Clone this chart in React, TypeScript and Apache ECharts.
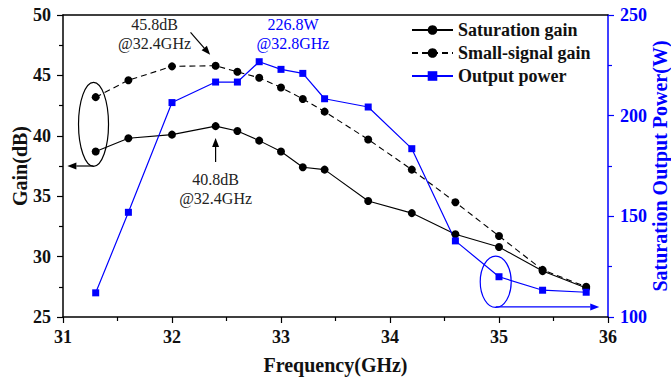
import React, { useEffect, useRef } from "react";
import * as echarts from "echarts";

const freq = [31.3, 31.6, 32.0, 32.4, 32.6, 32.8, 33.0, 33.2, 33.4, 33.8, 34.2, 34.6, 35.0, 35.4, 35.8];
const satGain = [38.7, 39.8, 40.1, 40.8, 40.4, 39.6, 38.7, 37.4, 37.2, 34.6, 33.6, 31.85, 30.8, 28.8, 27.4];
const smallGain = [43.2, 44.6, 45.75, 45.8, 45.3, 44.8, 44.0, 43.05, 42.0, 39.7, 37.2, 34.5, 31.7, 28.9, 27.5];
const outPower = [112, 152, 206.5, 216.7, 216.7, 226.8, 223, 221, 208.4, 204.3, 183.6, 137.8, 120, 113.3, 112.3];

const seriesNames = ["Saturation gain", "Small-signal gain", "Output power"];

const FONT = '"Liberation Serif", "Times New Roman", serif';
const BLUE = "#0000ff";

// annotations in data coordinates: [x, y, yAxisIndex]
const annTexts = [
  { t: "45.8dB", at: [31.84, 49.25, 0], c: "#222" },
  { t: "@32.4GHz", at: [31.84, 47.6, 0], c: "#222" },
  { t: "226.8W", at: [33.11, 49.25, 0], c: BLUE },
  { t: "@32.8GHz", at: [33.11, 47.6, 0], c: BLUE },
  { t: "40.8dB", at: [32.4, 36.42, 0], c: "#222" },
  { t: "@32.4GHz", at: [32.4, 34.77, 0], c: "#222" },
];
const annArrows = [
  { from: [31.28, 37.5, 0], to: [31.04, 37.5, 0], c: "#000" },
  { from: [34.97, 105, 1], to: [35.92, 105, 1], c: BLUE },
  { from: [32.17, 48.57, 0], to: [32.35, 46.7, 0], c: "#000" },
  { from: [32.4, 37.83, 0], to: [32.4, 39.82, 0], c: "#000" },
];
const annEllipses = [
  { at: [31.28, 40.95, 0], rx: 15, ry: 42, c: "#000" },
  { at: [34.97, 117.5, 1], rx: 15.5, ry: 25.7, c: BLUE },
];

const zip = (xs: number[], ys: number[]) => xs.map((x, i) => [x, ys[i]]);

export default function App() {
  const ref = useRef<HTMLDivElement>(null);
  useEffect(() => {
    const chart = echarts.init(ref.current!, null, { renderer: "svg" });
    const axisLabel = (color: string, margin: number) => ({
      color,
      fontFamily: FONT,
      fontWeight: "bold",
      fontSize: 18,
      margin,
    });
    const option: any = {
      animation: false,
      backgroundColor: "#fff",
      grid: { left: 63, right: 63, top: 15, bottom: 62, containLabel: false, outerBoundsMode: "none" },
      legend: {
        orient: "vertical",
        left: 406,
        top: 16,
        itemWidth: 41,
        itemHeight: 12,
        itemGap: 5,
        data: seriesNames,
        textStyle: { fontFamily: FONT, fontWeight: "bold", fontSize: 18, color: "#111" },
      },
      xAxis: [
        {
          type: "value",
          min: 31,
          max: 36,
          interval: 1,
          name: "Frequency(GHz)",
          nameLocation: "middle",
          nameGap: 38,
          nameMoveOverlap: false,
          nameTextStyle: { fontFamily: FONT, fontWeight: "bold", fontSize: 20, color: "#111" },
          axisLine: { lineStyle: { color: "#000", width: 1.5 } },
          axisTick: { length: 6, lineStyle: { color: "#000", width: 1.2 } },
          minorTick: { show: true, splitNumber: 2, length: 4, lineStyle: { color: "#000", width: 1.2 } },
          splitLine: { show: false },
          axisLabel: axisLabel("#111", 11),
        },
        {
          type: "value",
          position: "top",
          min: 31,
          max: 36,
          axisLine: { show: true, lineStyle: { color: "#000", width: 1.5 } },
          axisTick: { show: false },
          axisLabel: { show: false },
          splitLine: { show: false },
        },
      ],
      yAxis: [
        {
          type: "value",
          min: 25,
          max: 50,
          interval: 5,
          name: "Gain(dB)",
          nameLocation: "middle",
          nameGap: 33,
          nameMoveOverlap: false,
          nameTextStyle: { fontFamily: FONT, fontWeight: "bold", fontSize: 20, color: "#111" },
          axisLine: { show: true, lineStyle: { color: "#000", width: 1.5 } },
          axisTick: { show: true, length: 6, lineStyle: { color: "#000", width: 1.2 } },
          minorTick: { show: true, splitNumber: 2, length: 4, lineStyle: { color: "#000", width: 1.2 } },
          splitLine: { show: false },
          axisLabel: axisLabel("#111", 12),
        },
        {
          type: "value",
          position: "right",
          min: 100,
          max: 250,
          interval: 50,
          name: "Saturation Output Power(W)",
          nameLocation: "middle",
          nameGap: 42,
          nameRotate: 90,
          nameMoveOverlap: false,
          nameTextStyle: { fontFamily: FONT, fontWeight: "bold", fontSize: 20, color: BLUE },
          axisLine: { show: true, lineStyle: { color: BLUE, width: 1.5 } },
          axisTick: { show: true, length: 6, lineStyle: { color: BLUE, width: 1.2 } },
          minorTick: { show: true, splitNumber: 2, length: 4, lineStyle: { color: BLUE, width: 1.2 } },
          splitLine: { show: false },
          axisLabel: axisLabel(BLUE, 12),
        },
      ],
      series: [
        {
          name: seriesNames[0],
          type: "line",
          data: zip(freq, satGain),
          symbol: "circle",
          symbolSize: 8,
          itemStyle: { color: "#000" },
          lineStyle: { color: "#000", width: 1.1 },
        },
        {
          name: seriesNames[1],
          type: "line",
          data: zip(freq, smallGain),
          symbol: "circle",
          symbolSize: 8,
          itemStyle: { color: "#000" },
          lineStyle: { color: "#000", width: 1.1, type: [6, 4] },
        },
        {
          name: seriesNames[2],
          type: "line",
          yAxisIndex: 1,
          data: zip(freq, outPower),
          symbol: "rect",
          symbolSize: 7,
          itemStyle: { color: BLUE },
          lineStyle: { color: BLUE, width: 1.2 },
        },
      ],
    };
    chart.setOption(option);

    const p = (a: number[]) =>
      chart.convertToPixel({ xAxisIndex: 0, yAxisIndex: a[2] } as any, [a[0], a[1]]) as number[];

    const elements: any[] = [];
    annTexts.forEach((t) => {
      const [x, y] = p(t.at);
      elements.push({
        type: "text",
        x,
        y,
        style: {
          text: t.t,
          fill: t.c,
          font: `16px ${FONT}`,
          align: "center",
          verticalAlign: "middle",
        },
      });
    });
    annEllipses.forEach((e) => {
      const [cx, cy] = p(e.at);
      elements.push({
        type: "ellipse",
        shape: { cx, cy, rx: e.rx, ry: e.ry },
        style: { fill: "none", stroke: e.c, lineWidth: 1.2 },
      });
    });
    annArrows.forEach((a) => {
      const [x1, y1] = p(a.from);
      const [x2, y2] = p(a.to);
      const dx = x2 - x1;
      const dy = y2 - y1;
      const len = Math.sqrt(dx * dx + dy * dy);
      const ux = dx / len;
      const uy = dy / len;
      const hl = 9;
      const hw = 3.5;
      const bx = x2 - ux * hl;
      const by = y2 - uy * hl;
      elements.push({
        type: "line",
        shape: { x1, y1, x2: bx, y2: by },
        style: { stroke: a.c, lineWidth: 1.2 },
      });
      elements.push({
        type: "polygon",
        shape: {
          points: [
            [x2, y2],
            [bx - uy * hw, by + ux * hw],
            [bx + uy * hw, by - ux * hw],
          ],
        },
        style: { fill: a.c },
      });
    });
    chart.setOption({ graphic: elements });

    return () => chart.dispose();
  }, []);
  return (
    <div
      ref={ref}
      style={{ position: "fixed", left: 0, top: 0, width: 671, height: 379, background: "#fff" }}
    />
  );
}
